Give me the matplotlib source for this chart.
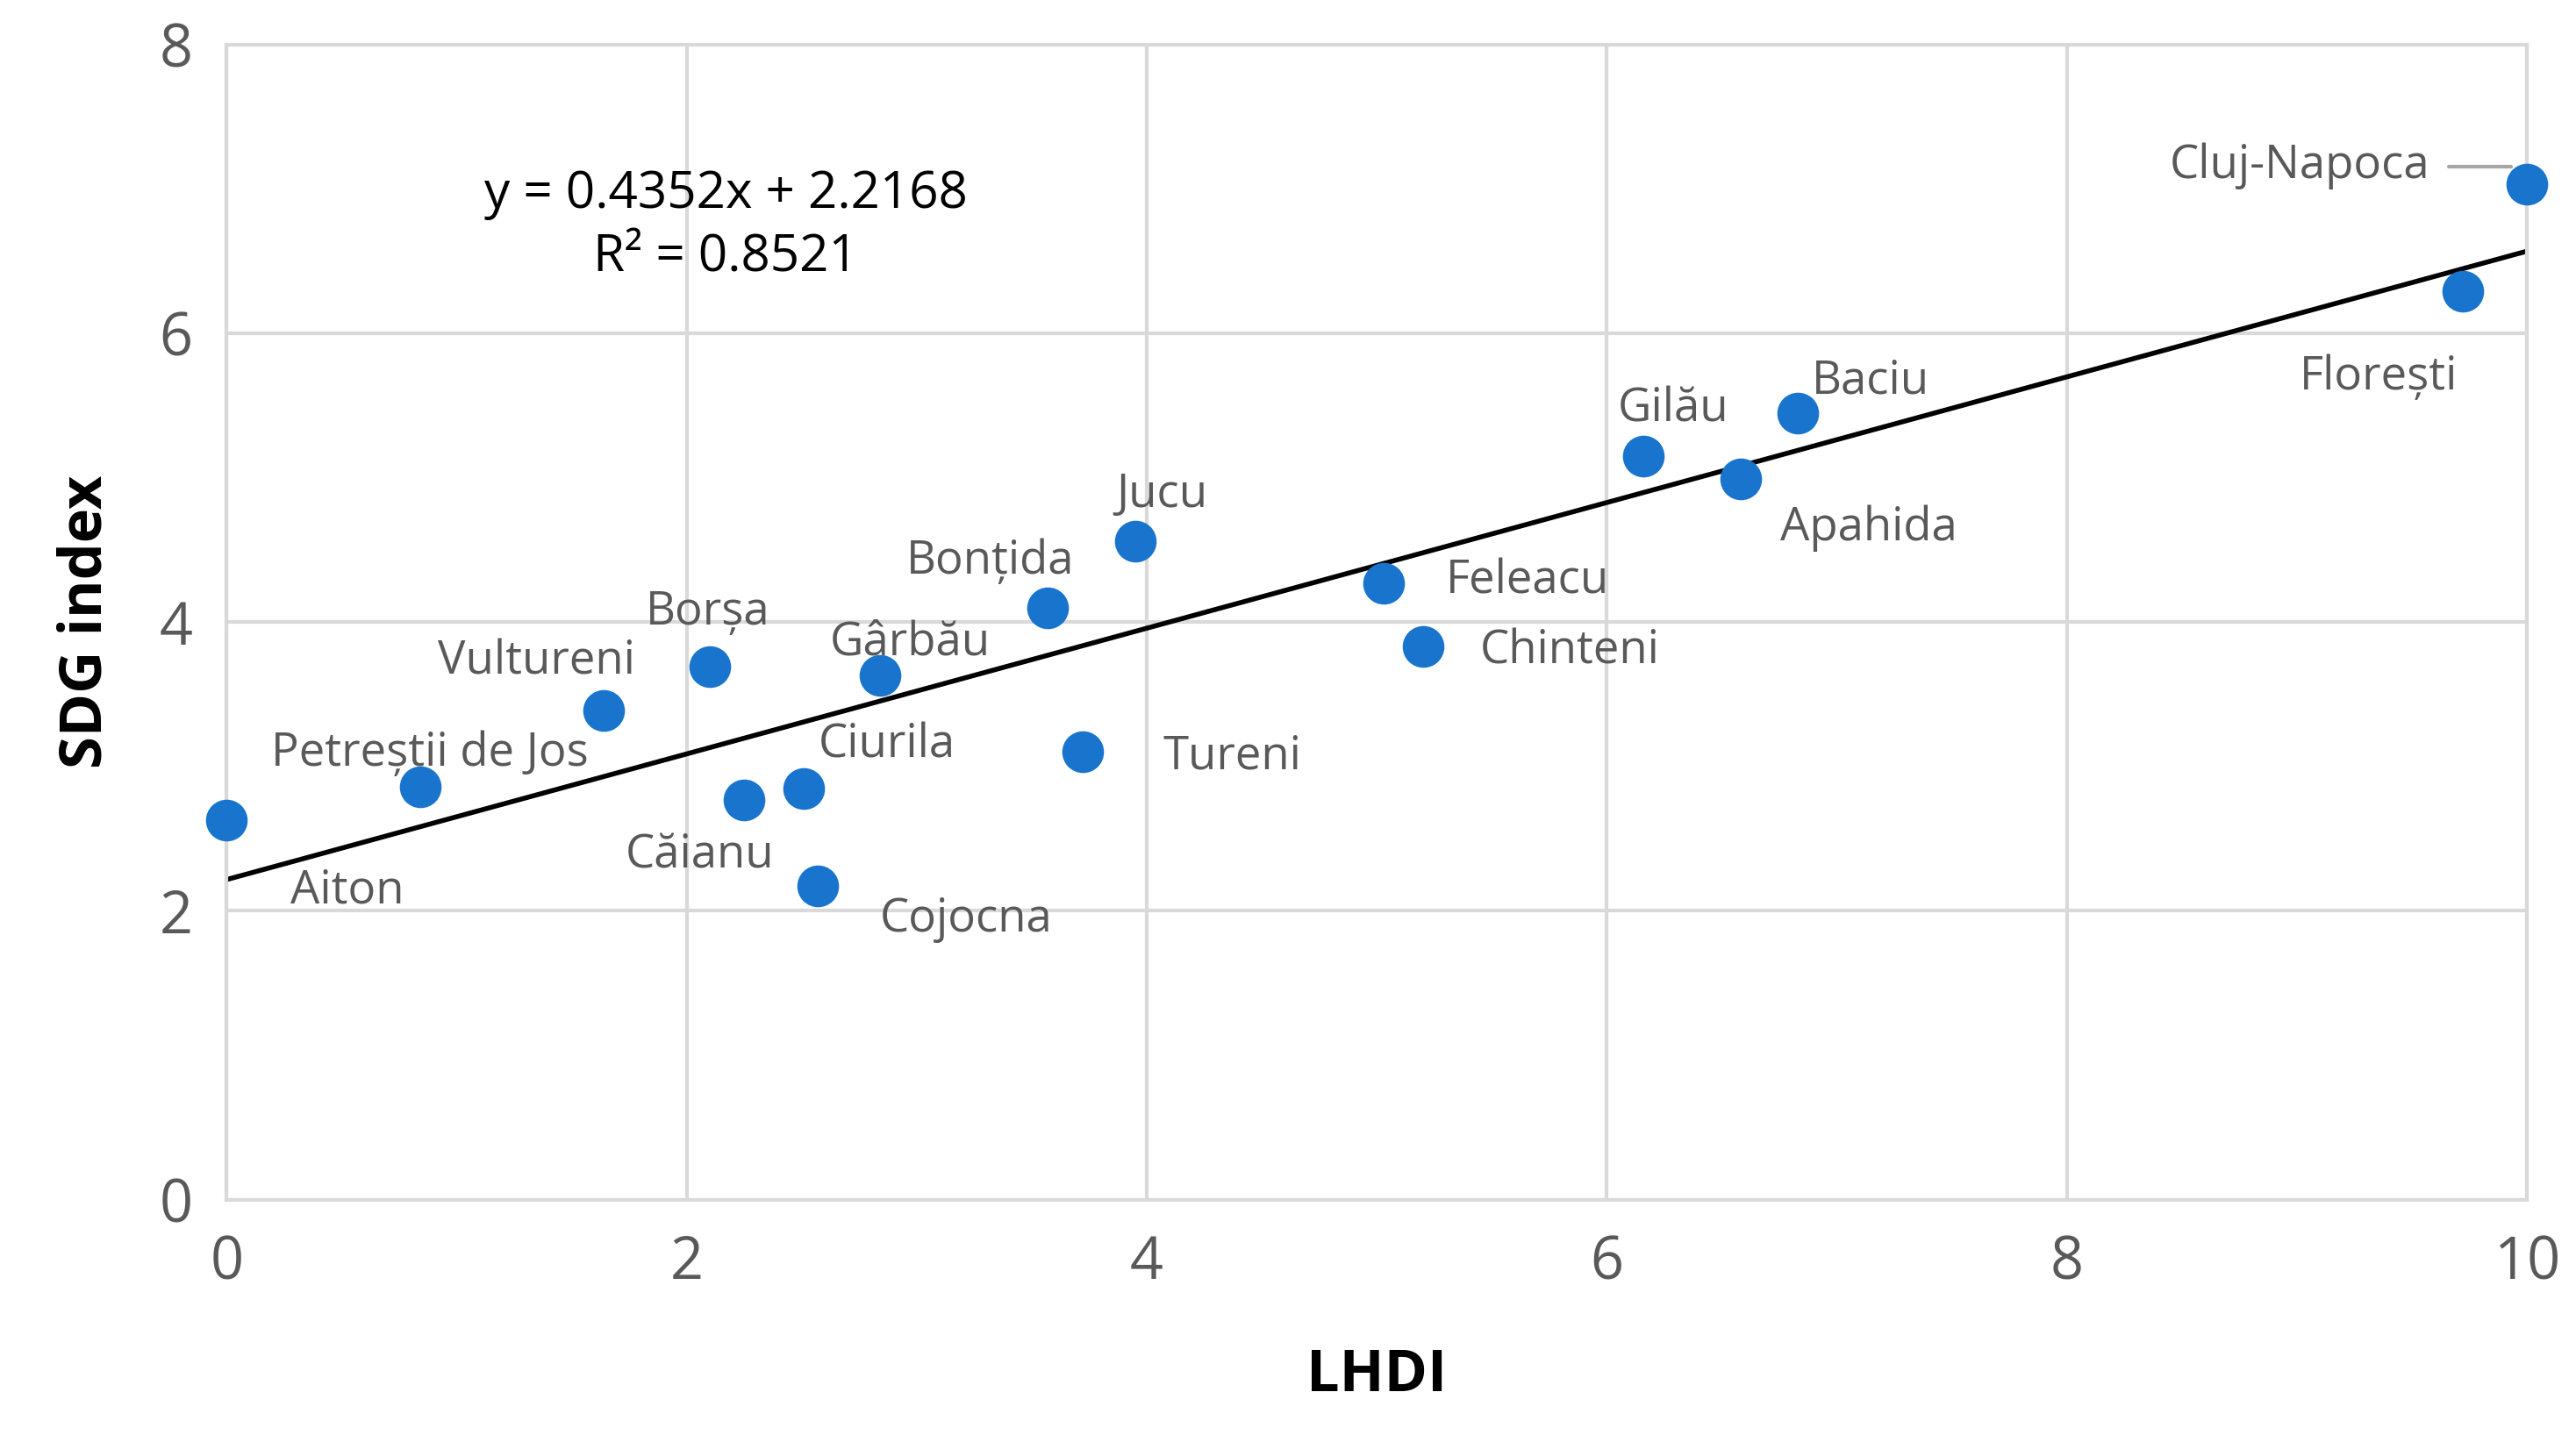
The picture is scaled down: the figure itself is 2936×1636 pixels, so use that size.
import matplotlib
matplotlib.use("Agg")
import matplotlib.pyplot as plt
import numpy as np

names = ["Aiton","Petreștii de Jos","Vultureni","Borșa","Căianu","Ciurila","Cojocna","Gârbău",
         "Bonțida","Jucu","Tureni","Feleacu","Chinteni","Gilău","Apahida","Baciu","Florești","Cluj-Napoca"]
lhdi = [0.0,0.84,1.64,2.10,2.25,2.51,2.57,2.84,3.57,3.95,3.72,5.03,5.20,6.16,6.58,6.83,9.72,10.0]
sdg = [2.63,2.86,3.39,3.69,2.77,2.85,2.17,3.63,4.10,4.56,3.10,4.27,3.83,5.15,4.99,5.45,6.29,7.03]
slope, intercept = 0.4352, 2.2168

# label offsets (display px of a 1560-wide view)
offs = [(73,43),(6,-20),(-41,-29),(-1,-33),(-27,34),(50,-26),(90,20),(18,-20),(-35,-28),(16,-28),
        (91,3),(87,-1),(89,3),(18,-28),(78,30),(44,-19),(-51,52),(-138,-11)]

plt.rcParams['font.family'] = ['Open Sans', 'DejaVu Sans']
fig = plt.figure(figsize=(14.68, 8.18), dpi=200)
ax = fig.add_axes([0.088, 0.164, 0.893, 0.805])
ax.set_xlim(0, 10); ax.set_ylim(0, 8)
ax.set_xticks(range(0, 11, 2)); ax.set_yticks(range(0, 9, 2))
ax.grid(True, color='#d9d9d9', lw=1.5)
ax.set_axisbelow(True)
for s in ax.spines.values():
    s.set_color('#d9d9d9'); s.set_linewidth(1.5)
ax.tick_params(length=0, labelsize=24, colors='#595959', pad=14)
ax.set_xlabel("LHDI", fontsize=24, fontweight='bold', labelpad=22)
ax.set_ylabel("SDG index", fontsize=24, fontweight='bold', labelpad=18)

xs = np.array([0, 10])
ax.plot(xs, slope*xs + intercept, color='black', lw=2, zorder=2)
ax.scatter(lhdi, sdg, s=260, color='#1874cd', zorder=3, clip_on=False)
k = 0.677
for n, x, y, (dx, dy) in zip(names, lhdi, sdg, offs):
    kw = dict(xytext=(dx*k, -dy*k), textcoords='offset points', ha='center', va='center',
              fontsize=19, color='#595959')
    if n == "Cluj-Napoca":
        kw['arrowprops'] = dict(arrowstyle='-', color='#a6a6a6', lw=1.5, relpos=(1, 0.5),
                                connectionstyle='angle,angleA=0,angleB=60,rad=0',
                                shrinkA=6, shrinkB=10)
    ax.annotate(n, (x, y), **kw)
ax.text(2.17, 6.74, f"y = {slope}x + {intercept}\nR² = 0.8521", ha='center', va='center',
        fontsize=21, linespacing=1.3)
fig.savefig("out.png", dpi=200)
